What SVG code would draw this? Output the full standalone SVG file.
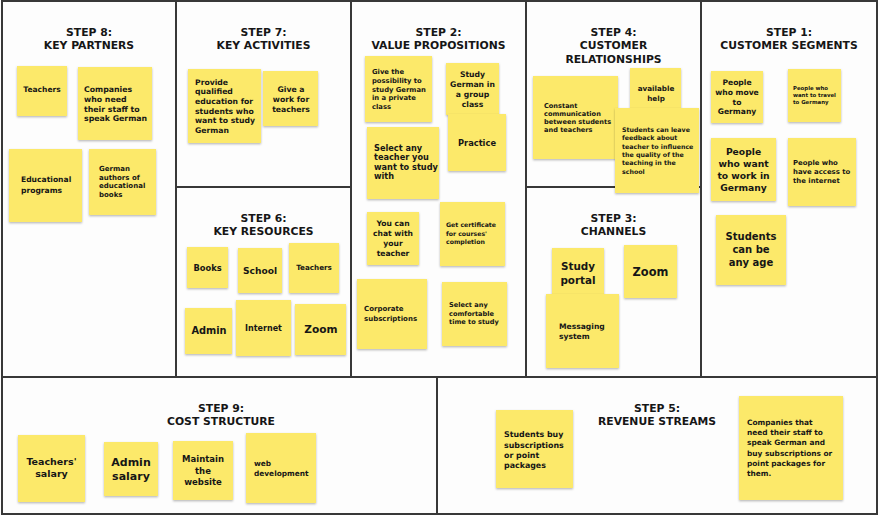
<svg xmlns="http://www.w3.org/2000/svg" width="880" height="515" viewBox="0 0 880 515">
<defs>
<filter id="sh" x="-10%" y="-10%" width="120%" height="125%">
<feDropShadow dx="0" dy="1.2" stdDeviation="0.8" flood-color="#000" flood-opacity="0.28"/>
</filter>
</defs>
<style>
.bg{fill:#fdfdfd}
.fr{fill:none;stroke:#383838;stroke-width:2}
.n{fill:#fce96a;filter:url(#sh)}
text{font-family:"DejaVu Sans","Liberation Sans",sans-serif;font-weight:bold;fill:#161616}
.t{font-size:10.8px;text-anchor:middle}
.c{text-anchor:middle}
</style>
<rect class="bg" x="0" y="0" width="880" height="515"/>
<g id="frame">
<rect class="fr" x="2" y="1" width="875" height="513"/>
<line class="fr" x1="176" y1="1" x2="176" y2="377"/>
<line class="fr" x1="351" y1="1" x2="351" y2="377"/>
<line class="fr" x1="526" y1="1" x2="526" y2="377"/>
<line class="fr" x1="701" y1="1" x2="701" y2="377"/>
<line class="fr" x1="176" y1="187" x2="351" y2="187"/>
<line class="fr" x1="526" y1="187" x2="701" y2="187"/>
<line class="fr" x1="2" y1="377" x2="877" y2="377"/>
<line class="fr" x1="437" y1="377" x2="437" y2="514"/>
</g>
<g id="titles">
<text class="t" x="89" y="36">STEP 8:</text><text class="t" x="89" y="49">KEY PARTNERS</text>
<text class="t" x="263.5" y="36">STEP 7:</text><text class="t" x="263.5" y="49">KEY ACTIVITIES</text>
<text class="t" x="438.5" y="36">STEP 2:</text><text class="t" x="438.5" y="49">VALUE PROPOSITIONS</text>
<text class="t" x="613.5" y="36">STEP 4:</text><text class="t" x="613.5" y="49">CUSTOMER</text><text class="t" x="613.5" y="62.5">RELATIONSHIPS</text>
<text class="t" x="789" y="36">STEP 1:</text><text class="t" x="789" y="49">CUSTOMER SEGMENTS</text>
<text class="t" x="263.5" y="221.7">STEP 6:</text><text class="t" x="263.5" y="235">KEY RESOURCES</text>
<text class="t" x="613.5" y="221.7">STEP 3:</text><text class="t" x="613.5" y="235">CHANNELS</text>
<text class="t" x="221" y="411.5">STEP 9:</text><text class="t" x="221" y="425">COST STRUCTURE</text>
<text class="t" x="657" y="411.5">STEP 5:</text><text class="t" x="657" y="425">REVENUE STREAMS</text>
</g>
<g id="connectors"/>
<!-- Step 8 -->
<g id="n8a"><rect class="n" x="17" y="66" width="50" height="50"/><text class="c" x="42" y="92.4" font-size="7.5">Teachers</text></g>
<g id="n8b"><rect class="n" x="78" y="67" width="74" height="73"/><text x="84" font-size="7.8"><tspan x="84" y="91.5">Companies</tspan><tspan x="84" y="101.5">who need</tspan><tspan x="84" y="111.5">their staff to</tspan><tspan x="84" y="120.5">speak German</tspan></text></g>
<g id="n8c"><rect class="n" x="9" y="149" width="73" height="73"/><text font-size="7.6"><tspan x="21" y="182.4">Educational</tspan><tspan x="21" y="193.4">programs</tspan></text></g>
<g id="n8d"><rect class="n" x="89" y="149" width="67" height="66"/><text font-size="7"><tspan x="99" y="171.2">German</tspan><tspan x="99" y="179.7">authors of</tspan><tspan x="99" y="188.2">educational</tspan><tspan x="99" y="196.7">books</tspan></text></g>
<!-- Step 7 -->
<g id="n7a"><rect class="n" x="188" y="69" width="73" height="74"/><text font-size="7.7"><tspan x="195" y="84.5">Provide</tspan><tspan x="195" y="94.2">qualified</tspan><tspan x="195" y="103.9">education for</tspan><tspan x="195" y="113.6">students who</tspan><tspan x="195" y="123.3">want to study</tspan><tspan x="195" y="133">German</tspan></text></g>
<g id="n7b"><rect class="n" x="263" y="71" width="55" height="55"/><text class="c" font-size="7.7"><tspan x="291" y="91.5">Give a</tspan><tspan x="291" y="101.5">work for</tspan><tspan x="291" y="111.5">teachers</tspan></text></g>
<!-- Step 6 -->
<g id="n6a"><rect class="n" x="187" y="247" width="41" height="41"/><text class="c" x="207.5" y="270.7" font-size="8.3">Books</text></g>
<g id="n6b"><rect class="n" x="238" y="248" width="44" height="45"/><text class="c" x="260" y="274" font-size="9.1">School</text></g>
<g id="n6c"><rect class="n" x="289" y="243" width="50" height="50"/><text class="c" x="314" y="270.3" font-size="7.2">Teachers</text></g>
<g id="n6d"><rect class="n" x="185" y="308" width="47" height="46"/><text class="c" x="209" y="334.2" font-size="9.8">Admin</text></g>
<g id="n6e"><rect class="n" x="236" y="300" width="55" height="56"/><text class="c" x="263.5" y="330.6" font-size="8">Internet</text></g>
<g id="n6f"><rect class="n" x="295" y="304" width="51" height="51"/><text class="c" x="321" y="333.4" font-size="10.6">Zoom</text></g>
<!-- Step 2 -->
<g id="n2a"><rect class="n" x="365" y="56" width="67" height="66"/><text font-size="6.8"><tspan x="372" y="74">Give the</tspan><tspan x="372" y="82.8">possibility to</tspan><tspan x="372" y="91.5">study German</tspan><tspan x="372" y="100.3">in a private</tspan><tspan x="372" y="109">class</tspan></text></g>
<g id="n2b"><rect class="n" x="446" y="63" width="53" height="52"/><text class="c" font-size="7.7"><tspan x="472.5" y="76.5">Study</tspan><tspan x="472.5" y="86.5">German in</tspan><tspan x="472.5" y="96.5">a group</tspan><tspan x="472.5" y="106.5">class</tspan></text></g>
<g id="n2c"><rect class="n" x="448" y="114" width="58" height="57"/><text class="c" x="477" y="145.7" font-size="8.3">Practice</text></g>
<g id="n2d"><rect class="n" x="367" y="127" width="72" height="72"/><text font-size="8.2"><tspan x="374" y="150.6">Select any</tspan><tspan x="374" y="160.2">teacher you</tspan><tspan x="374" y="169.8">want to study</tspan><tspan x="374" y="179.4">with</tspan></text></g>
<g id="n2e"><rect class="n" x="367" y="212" width="52" height="53"/><text class="c" font-size="7.6"><tspan x="393" y="226.4">You can</tspan><tspan x="393" y="236.2">chat with</tspan><tspan x="393" y="246">your</tspan><tspan x="393" y="255.8">teacher</tspan></text></g>
<g id="n2f"><rect class="n" x="440" y="202" width="65" height="64"/><text font-size="6.2"><tspan x="446" y="227">Get certificate</tspan><tspan x="446" y="235.5">for courses'</tspan><tspan x="446" y="244">completion</tspan></text></g>
<g id="n2g"><rect class="n" x="357" y="279" width="70" height="70"/><text font-size="7"><tspan x="364" y="311.2">Corporate</tspan><tspan x="364" y="320.8">subscriptions</tspan></text></g>
<g id="n2h"><rect class="n" x="442" y="282" width="65" height="64"/><text font-size="6.6"><tspan x="449" y="307.2">Select any</tspan><tspan x="449" y="315.7">comfortable</tspan><tspan x="449" y="324.2">time to study</tspan></text></g>
<!-- Step 4 -->
<g id="n4a"><rect class="n" x="533" y="76" width="85" height="83"/><text font-size="6.6"><tspan x="544" y="108">Constant</tspan><tspan x="544" y="116">communication</tspan><tspan x="544" y="124">between students</tspan><tspan x="544" y="132">and teachers</tspan></text></g>
<g id="n4b"><rect class="n" x="630" y="68" width="51" height="42"/><text class="c" font-size="7.2"><tspan x="656" y="91.3">available</tspan><tspan x="656" y="100.6">help</tspan></text></g>
<g id="n4c"><rect class="n" x="615" y="108" width="84" height="85"/><text font-size="6.3"><tspan x="622" y="132">Students can leave</tspan><tspan x="622" y="140.3">feedback about</tspan><tspan x="622" y="148.6">teacher to influence</tspan><tspan x="622" y="156.9">the quality of the</tspan><tspan x="622" y="165.2">teaching in the</tspan><tspan x="622" y="173.5">school</tspan></text></g>
<!-- Step 3 -->
<g id="n3a"><rect class="n" x="552" y="248" width="52" height="50"/><text class="c" font-size="10.4"><tspan x="578" y="269.5">Study</tspan><tspan x="578" y="283.5">portal</tspan></text></g>
<g id="n3b"><rect class="n" x="624" y="245" width="53" height="53"/><text class="c" x="650.5" y="275.6" font-size="11.4">Zoom</text></g>
<g id="n3c"><rect class="n" x="546" y="294" width="73" height="74"/><text font-size="7.6"><tspan x="559" y="329.4">Messaging</tspan><tspan x="559" y="339.4">system</tspan></text></g>
<!-- Step 1 -->
<g id="n1a"><rect class="n" x="711" y="71" width="52" height="52"/><text class="c" font-size="7.6"><tspan x="737" y="85.4">People</tspan><tspan x="737" y="95">who move</tspan><tspan x="737" y="104.6">to</tspan><tspan x="737" y="114.2">Germany</tspan></text></g>
<g id="n1b"><rect class="n" x="788" y="69" width="53" height="53"/><text font-size="5.4"><tspan x="793" y="89.7">People who</tspan><tspan x="793" y="96.8">want to travel</tspan><tspan x="793" y="103.9">to Germany</tspan></text></g>
<g id="n1c"><rect class="n" x="711" y="138" width="65" height="63"/><text class="c" font-size="9.2"><tspan x="743.5" y="155">People</tspan><tspan x="743.5" y="167">who want</tspan><tspan x="743.5" y="179">to work in</tspan><tspan x="743.5" y="191">Germany</tspan></text></g>
<g id="n1d"><rect class="n" x="788" y="138" width="68" height="68"/><text font-size="6.9"><tspan x="793" y="165.2">People who</tspan><tspan x="793" y="174.2">have access to</tspan><tspan x="793" y="183.2">the internet</tspan></text></g>
<g id="n1e"><rect class="n" x="716" y="215" width="70" height="70"/><text class="c" font-size="10"><tspan x="751" y="240.2">Students</tspan><tspan x="751" y="253.2">can be</tspan><tspan x="751" y="266.2">any age</tspan></text></g>
<!-- Step 9 -->
<g id="n9a"><rect class="n" x="18" y="435" width="67" height="67"/><text class="c" font-size="9.5"><tspan x="51.5" y="465">Teachers'</tspan><tspan x="51.5" y="477">salary</tspan></text></g>
<g id="n9b"><rect class="n" x="104" y="442" width="54" height="54"/><text class="c" font-size="11"><tspan x="131" y="465.5">Admin</tspan><tspan x="131" y="479.5">salary</tspan></text></g>
<g id="n9c"><rect class="n" x="173" y="441" width="60" height="59"/><text class="c" font-size="8.5"><tspan x="203" y="461.7">Maintain</tspan><tspan x="203" y="473.5">the</tspan><tspan x="203" y="485">website</tspan></text></g>
<g id="n9d"><rect class="n" x="246" y="433" width="70" height="70"/><text font-size="7.4"><tspan x="254" y="466.4">web</tspan><tspan x="254" y="476.4">development</tspan></text></g>
<!-- Step 5 -->
<g id="n5a"><rect class="n" x="496" y="410" width="77" height="78"/><text font-size="7.9"><tspan x="504" y="436.5">Students buy</tspan><tspan x="504" y="447.5">subscriptions</tspan><tspan x="504" y="457.5">or point</tspan><tspan x="504" y="467.5">packages</tspan></text></g>
<g id="n5b"><rect class="n" x="739" y="396" width="104" height="104"/><text font-size="7.4"><tspan x="747" y="425.4">Companies that</tspan><tspan x="747" y="435.4">need their staff to</tspan><tspan x="747" y="445.4">speak German and</tspan><tspan x="747" y="455.6">buy subscriptions or</tspan><tspan x="747" y="465.6">point packages for</tspan><tspan x="747" y="475.6">them.</tspan></text></g>
</svg>
